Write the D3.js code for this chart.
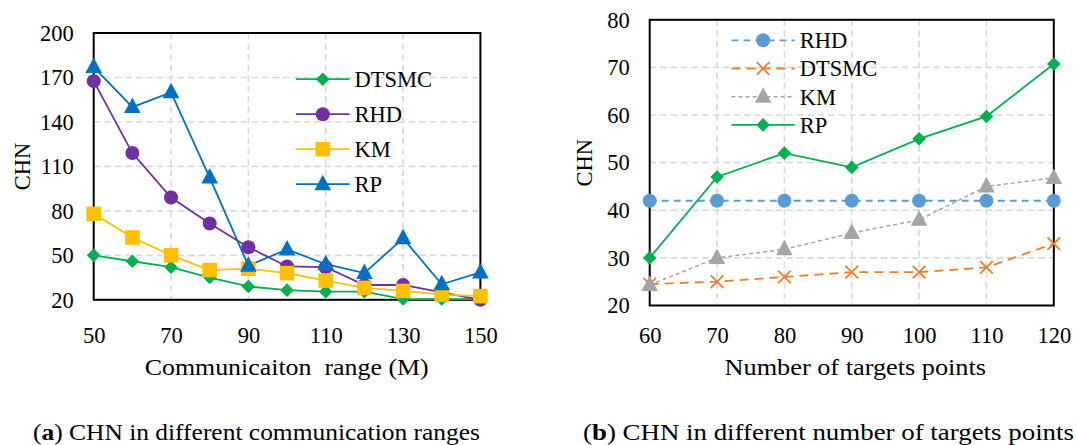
<!DOCTYPE html>
<html lang="en">
<head>
    <meta charset="UTF-8">
    <title>CHN charts</title>
    <script src="https://d3js.org/d3.v7.min.js"></script>
    <style>
        body { margin: 0; background: #fff; }
        svg text { font-family: "Liberation Serif", "Times New Roman", serif; fill: #000; }
    </style>
</head>
<body>
<svg id="chart" width="1076" height="445"></svg>
<script>
// ---- data: chart (a) ----
const rangeX = [50, 60, 70, 80, 90, 100, 110, 120, 130, 140, 150];
const rangeTicks = [50, 70, 90, 110, 130, 150];
const rangeYTicks = [20, 50, 80, 110, 140, 170, 200];
const aDTSMC = [50, 46, 42, 35, 29, 26.5, 25.5, 25.5, 20.5, 20.5, 20.5];
const aRHD = [167.5, 119, 89, 71.5, 55.5, 42.5, 42, 30, 30, 25, 20];
const aKM = [78, 62, 50, 40, 41, 38, 33, 28, 26, 23.5, 22.5];
const aRP = [177, 150, 160, 102.5, 43, 54, 44, 38, 61.5, 30.5, 38.5];

// ---- data: chart (b) ----
const targetX = [60, 70, 80, 90, 100, 110, 120];
const targetYTicks = [20, 30, 40, 50, 60, 70, 80];
const bRHD = [42, 42, 42, 42, 42, 42, 42];
const bDTSMC = [24.5, 25, 26, 27, 27, 28, 33];
const bKM = [24.3, 30, 31.8, 35.2, 38, 45, 46.8];
const bRP = [30, 47, 52, 49, 55, 59.7, 70.7];

const FONT = '"Liberation Serif", "Times New Roman", serif';
const svg = d3.select("#chart");

function drawMarker(g, shape, x, y, color) {
    if (shape === "circle") {
        g.append("circle").attr("cx", x).attr("cy", y).attr("r", 7).attr("fill", color);
    } else if (shape === "square") {
        g.append("rect").attr("x", x - 7.3).attr("y", y - 7.3).attr("width", 14.6).attr("height", 14.6).attr("fill", color);
    } else if (shape === "triangle") {
        g.append("path").attr("d", `M${x},${y - 9.5}L${x + 8.3},${y + 6}L${x - 8.3},${y + 6}Z`).attr("fill", color);
    } else if (shape === "diamond") {
        g.append("path").attr("d", `M${x},${y - 6.8}L${x + 6.8},${y}L${x},${y + 6.8}L${x - 6.8},${y}Z`).attr("fill", color);
    } else if (shape === "cross") {
        g.append("path").attr("d", `M${x - 6.3},${y - 6.3}L${x + 6.3},${y + 6.3}M${x + 6.3},${y - 6.3}L${x - 6.3},${y + 6.3}`)
            .attr("stroke", color).attr("stroke-width", 1.8).attr("fill", "none");
    }
}

function drawChart(cfg) {
    const x = d3.scaleLinear().domain(cfg.xDomain).range([cfg.left, cfg.right]);
    const y = d3.scaleLinear().domain(cfg.yDomain).range([cfg.bottom, cfg.top]);
    const g = svg.append("g");

    // grid
    g.append("g").selectAll("line").data(cfg.yTicks.slice(1, -1)).join("line")
        .attr("x1", cfg.left).attr("x2", cfg.right).attr("y1", d => y(d)).attr("y2", d => y(d))
        .attr("stroke", "#d9d9d9").attr("stroke-width", 1.6).attr("stroke-dasharray", "6.5,4");
    g.append("g").selectAll("line").data(cfg.xTicks.slice(1, -1)).join("line")
        .attr("y1", cfg.top).attr("y2", cfg.bottom).attr("x1", d => x(d)).attr("x2", d => x(d))
        .attr("stroke", "#d9d9d9").attr("stroke-width", 1.6).attr("stroke-dasharray", "6.5,4");

    // frame
    g.append("rect").attr("x", cfg.left).attr("y", cfg.top)
        .attr("width", cfg.right - cfg.left).attr("height", cfg.bottom - cfg.top)
        .attr("fill", "none").attr("stroke", "#000").attr("stroke-width", 2);

    // axes (labels only)
    const yAxis = g.append("g").attr("transform", `translate(${cfg.left},0)`)
        .call(d3.axisLeft(y).tickValues(cfg.yTicks).tickSize(0).tickPadding(20));
    const xAxis = g.append("g").attr("transform", `translate(0,${cfg.bottom})`)
        .call(d3.axisBottom(x).tickValues(cfg.xTicks).tickSize(0).tickPadding(327.5 - cfg.bottom));
    [yAxis, xAxis].forEach(a => {
        a.attr("font-family", null).attr("font-size", null);
        a.select(".domain").remove();
        a.selectAll("text").style("font-family", FONT).style("font-size", "22.5px").attr("fill", "#000");
    });

    g.append("text").attr("transform", `translate(${cfg.yLabelX},${(cfg.top + cfg.bottom) / 2}) rotate(-90)`)
        .attr("text-anchor", "middle").attr("dy", "0.35em").style("font-size", "22.5px").text("CHN");
    g.append("text").attr("x", cfg.titleX).attr("y", 374.5)
        .attr("text-anchor", "middle").style("font-size", "22.5px").style("white-space", "pre")
        .attr("textLength", cfg.titleLen).attr("lengthAdjust", "spacingAndGlyphs").text(cfg.xTitle);

    // series
    const line = d3.line().x((d, i) => x(cfg.xs[i])).y(d => y(d));
    cfg.series.forEach(s => {
        g.append("path").datum(s.values).attr("d", line).attr("fill", "none")
            .attr("stroke", s.color).attr("stroke-width", s.width || 1.8)
            .attr("stroke-dasharray", s.dash || null);
    });
    cfg.series.forEach(s => {
        s.values.forEach((v, i) => drawMarker(g, s.shape, x(cfg.xs[i]), y(v), s.color));
    });

    // legend
    cfg.series.forEach((s, i) => {
        const ly = cfg.legendY + i * cfg.legendStep;
        g.append("line").attr("x1", cfg.legendX).attr("x2", cfg.legendX + cfg.legendLen)
            .attr("y1", ly).attr("y2", ly).attr("stroke", s.color).attr("stroke-width", s.width || 1.8)
            .attr("stroke-dasharray", s.dash || null);
        drawMarker(g, s.shape, cfg.legendX + cfg.legendLen / 2, ly, s.color);
        g.append("text").attr("x", cfg.legendX + cfg.legendLen + 5).attr("y", ly).attr("dy", "0.35em")
            .style("font-size", "22.5px").text(s.name);
    });
}

drawChart({
    left: 93.7, right: 480.4, top: 33, bottom: 299.8,
    xDomain: [50, 150], yDomain: [20, 200],
    xTicks: rangeTicks, yTicks: rangeYTicks, xs: rangeX,
    yLabelX: 22, xTitle: "Communicaiton  range (M)", titleX: 286.7, titleLen: 284,
    legendX: 296, legendLen: 53.5, legendY: 79.2, legendStep: 35,
    series: [
        { name: "DTSMC", values: aDTSMC, color: "#00b050", shape: "diamond" },
        { name: "RHD", values: aRHD, color: "#7030a0", shape: "circle" },
        { name: "KM", values: aKM, color: "#ffc000", shape: "square" },
        { name: "RP", values: aRP, color: "#0070c0", shape: "triangle" }
    ]
});

drawChart({
    left: 649.7, right: 1053.8, top: 19.8, bottom: 305.5,
    xDomain: [60, 120], yDomain: [20, 80],
    xTicks: targetX, yTicks: targetYTicks, xs: targetX,
    yLabelX: 584.4, xTitle: "Number of targets points", titleX: 855.3, titleLen: 261.5,
    legendX: 731.5, legendLen: 63.2, legendY: 40.3, legendStep: 28.2,
    series: [
        { name: "RHD", values: bRHD, color: "#5b9bd5", shape: "circle", dash: "7,5" },
        { name: "DTSMC", values: bDTSMC, color: "#ed7d31", shape: "cross", dash: "9,6" },
        { name: "KM", values: bKM, color: "#a5a5a5", shape: "triangle", dash: "4,3", width: 1.5 },
        { name: "RP", values: bRP, color: "#00b050", shape: "diamond" }
    ]
});

// captions
function caption(xPos, letter, rest, len) {
    const t = svg.append("text").attr("x", xPos).attr("y", 440).style("font-size", "23px")
        .attr("textLength", len).attr("lengthAdjust", "spacingAndGlyphs");
    t.append("tspan").text("(");
    t.append("tspan").style("font-weight", "bold").text(letter);
    t.append("tspan").text(")" + rest);
}
caption(33, "a", " CHN in different communication ranges", 447);
caption(583, "b", " CHN in different number of targets points", 491);
</script>
</body>
</html>
